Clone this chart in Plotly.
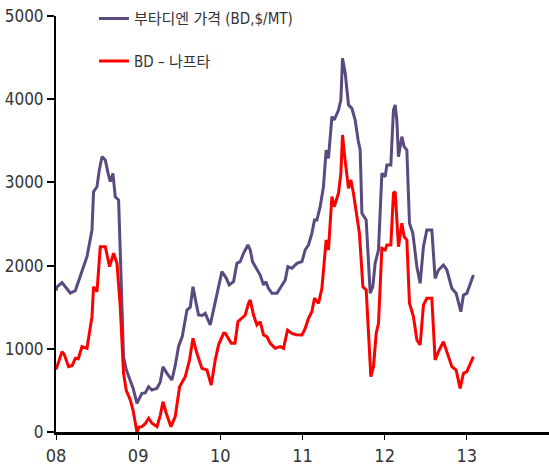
import plotly.graph_objects as go

# x positions in decimal years
bd_years = [2008.000, 2008.012, 2008.073, 2008.125, 2008.174, 2008.235, 2008.296, 2008.377,
            2008.438, 2008.457, 2008.499, 2008.527, 2008.560, 2008.600, 2008.636, 2008.661,
            2008.693, 2008.721, 2008.762, 2008.803, 2008.822, 2008.855, 2008.904, 2008.940,
            2008.985, 2009.013, 2009.046, 2009.086, 2009.127, 2009.168, 2009.229, 2009.269,
            2009.302, 2009.350, 2009.411, 2009.451, 2009.491, 2009.537, 2009.594, 2009.634,
            2009.667, 2009.695, 2009.735, 2009.780, 2009.816, 2009.877, 2009.938, 2009.974,
            2010.019, 2010.072, 2010.108, 2010.161, 2010.202, 2010.242, 2010.282, 2010.336,
            2010.364, 2010.392, 2010.445, 2010.485, 2010.526, 2010.555, 2010.586, 2010.628,
            2010.689, 2010.749, 2010.790, 2010.822, 2010.871, 2010.932, 2010.993, 2011.033,
            2011.073, 2011.114, 2011.146, 2011.175, 2011.215, 2011.255, 2011.288, 2011.316,
            2011.358, 2011.386, 2011.438, 2011.467, 2011.487, 2011.520, 2011.560, 2011.601,
            2011.641, 2011.678, 2011.702, 2011.723, 2011.775, 2011.824, 2011.856, 2011.884,
            2011.925, 2011.966, 2012.006, 2012.027, 2012.075, 2012.107, 2012.128, 2012.148,
            2012.168, 2012.209, 2012.237, 2012.270, 2012.302, 2012.343, 2012.392, 2012.432,
            2012.472, 2012.513, 2012.574, 2012.614, 2012.655, 2012.715, 2012.757, 2012.818,
            2012.870, 2012.927, 2012.959, 2013.000, 2013.080]
bd_price = [1700, 1745, 1795, 1730, 1670, 1700, 1867, 2107,
            2428, 2888, 2948, 3150, 3309, 3270, 3100, 3009,
            3109, 2828, 2788, 1506, 905, 750, 625, 520,
            345, 400, 465, 470, 544, 505, 525, 600,
            785, 705, 625, 800, 1025, 1150, 1466, 1500,
            1746, 1600, 1406, 1400, 1426, 1286, 1547, 1700,
            1927, 1850, 1767, 1807, 2027, 2047, 2148, 2248,
            2188, 2047, 1947, 1887, 1767, 1807, 1726, 1667,
            1667, 1767, 1827, 1987, 1967, 2027, 2047, 2188,
            2248, 2388, 2548, 2548, 2708, 2948, 3389, 3289,
            3790, 3750, 3870, 3990, 4491, 4311, 3930, 3890,
            3750, 3500, 3389, 2628, 2548, 1667, 1746, 2027,
            2188, 3109, 3069, 3209, 3209, 3870, 3930, 3750,
            3309, 3550, 3430, 3389, 2508, 2388, 1987, 1787,
            2228, 2428, 2428, 1847, 1947, 2007, 1947, 1726,
            1667, 1446, 1647, 1667, 1887]

spread_years = [2008.000, 2008.012, 2008.073, 2008.101, 2008.153, 2008.198, 2008.235, 2008.271,
                2008.316, 2008.377, 2008.438, 2008.457, 2008.499, 2008.539, 2008.600, 2008.652,
                2008.701, 2008.742, 2008.782, 2008.822, 2008.855, 2008.904, 2008.940, 2008.985,
                2009.013, 2009.046, 2009.086, 2009.127, 2009.168, 2009.229, 2009.269, 2009.302,
                2009.342, 2009.399, 2009.451, 2009.504, 2009.573, 2009.625, 2009.667, 2009.715,
                2009.776, 2009.837, 2009.889, 2009.938, 2009.978, 2010.039, 2010.060, 2010.133,
                2010.178, 2010.214, 2010.263, 2010.303, 2010.343, 2010.364, 2010.404, 2010.445,
                2010.485, 2010.526, 2010.567, 2010.607, 2010.668, 2010.729, 2010.769, 2010.818,
                2010.871, 2010.923, 2010.993, 2011.033, 2011.073, 2011.114, 2011.146, 2011.195,
                2011.236, 2011.288, 2011.316, 2011.358, 2011.386, 2011.438, 2011.467, 2011.487,
                2011.511, 2011.560, 2011.589, 2011.620, 2011.693, 2011.735, 2011.775, 2011.803,
                2011.832, 2011.864, 2011.897, 2011.925, 2011.966, 2012.006, 2012.027, 2012.075,
                2012.107, 2012.128, 2012.168, 2012.209, 2012.237, 2012.270, 2012.302, 2012.350,
                2012.392, 2012.432, 2012.472, 2012.513, 2012.574, 2012.614, 2012.655, 2012.715,
                2012.745, 2012.818, 2012.870, 2012.918, 2012.959, 2013.000, 2013.080]
bd_naphtha = [750, 785, 965, 930, 785, 800, 885, 880,
              1025, 1006, 1386, 1746, 1686, 2227, 2227, 1987,
              2148, 2027, 1506, 705, 500, 385, 250, 0,
              60, 64, 100, 165, 105, 64, 200, 364,
              225, 64, 184, 544, 665, 865, 1126, 946,
              765, 745, 565, 865, 1046, 1186, 1186, 1066,
              1066, 1326, 1366, 1406, 1547, 1587, 1406, 1286,
              1326, 1166, 1146, 1066, 1006, 1026, 1006, 1226,
              1186, 1170, 1166, 1246, 1366, 1446, 1607, 1547,
              1726, 2308, 2188, 2828, 2708, 2869, 3109, 3570,
              3329, 2929, 3029, 2869, 2388, 1746, 1707, 1226,
              665, 785, 1186, 1306, 2208, 2188, 2248, 2248,
              2869, 2888, 2227, 2508, 2348, 2308, 1547, 1386,
              1106, 1046, 1526, 1607, 1607, 865, 965, 1086,
              1006, 785, 745, 525, 705, 725, 905]

tick_years = [2008, 2009, 2010, 2011, 2012, 2013]
tick_labels = ["08", "09", "10", "11", "12", "13"]
y_ticks = [0, 1000, 2000, 3000, 4000, 5000]

series_names = ["부타디엔 가격 (BD,$/MT)", "BD – 나프타"]

FONT = "DejaVu Sans Condensed, Liberation Sans Narrow, Roboto, Noto Sans CJK KR, sans-serif"

fig = go.Figure()
fig.add_trace(go.Scatter(x=bd_years, y=bd_price, mode="lines", name=series_names[0],
                         legendgroup="a",
                         line=dict(color="#5a4a80", width=3)))
fig.add_trace(go.Scatter(x=spread_years, y=bd_naphtha, mode="lines", name=series_names[1],
                         legendgroup="b",
                         line=dict(color="#ff0000", width=3)))

fig.update_layout(
    width=549, height=471,
    margin=dict(l=56, r=0, t=16, b=39, autoexpand=False),
    paper_bgcolor="white", plot_bgcolor="white",
    font=dict(family=FONT, color="#333333"),
    showlegend=True,
    legend=dict(x=0.077, y=1.033, xanchor="left", yanchor="top",
                bgcolor="rgba(0,0,0,0)", borderwidth=0,
                font=dict(size=15, family=FONT, color="#333333"),
                tracegroupgap=20, itemwidth=30),
    xaxis=dict(range=[2008, 2014], tickmode="array", tickvals=tick_years, ticktext=tick_labels,
               showgrid=False, zeroline=False, showline=True, linecolor="black", linewidth=3,
               ticks="outside", ticklen=5, tickwidth=1, tickcolor="black", automargin=False,
               tickfont=dict(size=18, family=FONT, color="#333333")),
    yaxis=dict(range=[0, 5000], tickmode="array", tickvals=y_ticks, automargin=False,
               showgrid=False, zeroline=False, showline=True, linecolor="black", linewidth=2,
               ticks="outside", ticklen=7, tickwidth=1.5, tickcolor="black",
               tickfont=dict(size=17, family=FONT, color="#333333")),
)

fig.write_html("out.html", config={"displayModeBar": False},
               post_script="document.body.style.margin='0';document.body.style.overflow='hidden';")
